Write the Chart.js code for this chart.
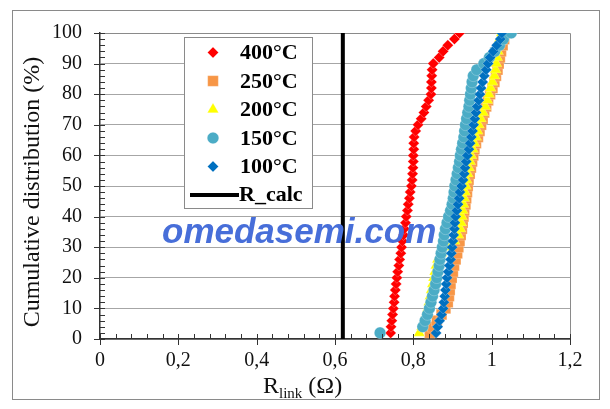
<!DOCTYPE html>
<html>
<head>
<meta charset="utf-8">
<script src="https://cdn.jsdelivr.net/npm/chart.js@4.4.1/dist/chart.umd.min.js"></script>
<style>
    html, body { margin: 0; padding: 0; background: #fff; }
</style>
</head>
<body>
<canvas id="graficoDist" width="610" height="409"></canvas>
<script>
// Distribuição cumulativa (%) - eixo Y
const cumPct = [2, 4, 6, 8, 10, 12, 14, 16, 18, 20, 22, 24, 26, 28, 30, 32, 34, 36, 38, 40,
    42, 44, 46, 48, 50, 52, 54, 56, 58, 60, 62, 64, 66, 68, 70, 72, 74, 76, 78, 80,
    82, 84, 86, 88, 90, 92, 94, 96, 98, 100];

// R_link (Ohm) por temperatura
const r400 = [.742, .743, .745, .747, .749, .751, .752, .754, .756, .758,
    .760, .763, .765, .768, .770, .772, .775, .777, .780, .782,
    .785, .787, .790, .792, .795, .797, .798, .799, .800, .800,
    .801, .801, .802, .806, .812, .820, .827, .833, .839, .845,
    .846, .846, .847, .848, .851, .866, .876, .888, .905, .918];
const r250 = [.842, .850, .860, .872, .882, .888, .891, .893, .895, .898,
    .901, .904, .908, .912, .915, .918, .921, .924, .926, .928,
    .930, .933, .935, .937, .939, .941, .944, .947, .950, .953,
    .956, .960, .965, .969, .973, .977, .981, .986, .991, .996,
    1.002, 1.007, 1.011, 1.015, 1.018, 1.021, 1.024, 1.028, 1.032, 1.034];
const r200 = [.815, .822, .828, .833, .837, .840, .843, .846, .849, .852,
    .855, .858, .862, .872, .888, .905, .915, .920, .922, .924,
    .926, .928, .930, .932, .934, .936, .939, .942, .945, .948,
    .952, .956, .960, .964, .967, .972, .978, .984, .989, .993,
    .997, 1.002, 1.007, 1.010, 1.012, 1.014, 1.016, 1.018, 1.020, 1.025];
const r150 = [.715, .824, .830, .836, .841, .845, .849, .853, .857, .860,
    .863, .866, .868, .871, .874, .877, .879, .882, .886, .890,
    .895, .899, .902, .904, .906, .909, .912, .915, .918, .920,
    .923, .926, .929, .931, .933, .936, .939, .942, .944, .946,
    .948, .950, .953, .962, .980, .994, 1.008, 1.020, 1.030, 1.050];
const r100 = [.858, .862, .867, .872, .876, .878, .880, .882, .884, .886,
    .889, .892, .895, .897, .899, .901, .903, .905, .906, .908,
    .911, .914, .917, .919, .923, .927, .930, .932, .935, .938,
    .942, .945, .948, .951, .954, .957, .960, .963, .967, .970,
    .973, .977, .981, .986, .991, .996, 1.004, 1.013, 1.022, 1.026];

// Linha vertical R_calc
const rCalc = 0.62;
const rCalcY = [0, 100];

// Rótulos dos eixos
const xTickLabels = ['0', '0,2', '0,4', '0,6', '0,8', '1', '1,2'];
const yTickLabels = ['0', '10', '20', '30', '40', '50', '60', '70', '80', '90', '100'];

const pontos = (xs) => cumPct.map((y, i) => ({ x: xs[i], y: y }));

const serif = "'Liberation Serif', 'Times New Roman', serif";
const contorno = 'rgba(255,255,255,0.3)';

const series = [
    { label: '400°C', data: pontos(r400), color: '#ff0000', style: 'rectRot', radius: 5.5, order: 4 },
    { label: '250°C', data: pontos(r250), color: '#f79646', style: 'rect', radius: 7.5, order: 3 },
    { label: '200°C', data: pontos(r200), color: '#ffff00', style: 'triangle', radius: 6.5, order: 2 },
    { label: '150°C', data: pontos(r150), color: '#4bacc6', style: 'circle', radius: 5.8, order: 1 },
    { label: '100°C', data: pontos(r100), color: '#0070c0', style: 'rectRot', radius: 5.5, order: 0 }
];

const datasets = series.map(s => ({
    label: s.label,
    data: s.data,
    showLine: false,
    pointStyle: s.style,
    pointRadius: s.radius,
    backgroundColor: s.color,
    borderColor: contorno,
    pointBorderWidth: 0.8,
    order: s.order
}));

datasets.push({
    label: 'R_calc',
    type: 'line',
    data: rCalcY.map(y => ({ x: rCalc, y: y })),
    borderColor: '#000',
    borderWidth: 4,
    pointRadius: 0,
    order: 5
});

// Desenho dos marcadores (legenda)
function marcador(ctx, s, x, y) {
    ctx.fillStyle = s.color;
    ctx.strokeStyle = contorno;
    ctx.lineWidth = 0.8;
    Chart.helpers.drawPoint(ctx, { pointStyle: s.style, radius: s.radius, rotation: 0, borderWidth: 0.8 }, x, y);
}

const extras = {
    id: 'extras',
    beforeDraw(chart) {
        const ctx = chart.ctx;
        ctx.save();
        ctx.fillStyle = '#fff';
        ctx.fillRect(0, 0, chart.width, chart.height);
        ctx.strokeStyle = '#8a8a8a';
        ctx.lineWidth = 1;
        ctx.strokeRect(12.5, 10.5, 587, 389);
        ctx.restore();
    },
    beforeDatasetsDraw(chart) {
        const ctx = chart.ctx;
        const a = chart.chartArea;
        ctx.save();
        ctx.strokeStyle = '#8a8a8a';
        ctx.lineWidth = 1;
        ctx.beginPath();
        ctx.moveTo(a.left, a.top + 0.5);
        ctx.lineTo(a.right + 0.5, a.top + 0.5);
        ctx.lineTo(a.right + 0.5, a.bottom);
        ctx.stroke();
        ctx.restore();
    },
    afterDraw(chart) {
        const ctx = chart.ctx;
        const a = chart.chartArea;
        const xs = chart.scales.x;
        const ys = chart.scales.y;
        ctx.save();

        // marcas dos eixos
        ctx.strokeStyle = '#333';
        ctx.lineWidth = 1;
        ctx.beginPath();
        for (let v = 0; v <= 100; v += 2) {
            const py = Math.round(ys.getPixelForValue(v)) + 0.5;
            ctx.moveTo(v % 10 === 0 ? a.left - 6 : a.left, py);
            ctx.lineTo(a.left + 5, py);
        }
        for (let k = 0; k <= 30; k++) {
            const px = Math.round(xs.getPixelForValue(k * 0.04)) + 0.5;
            ctx.moveTo(px, a.bottom - 5);
            ctx.lineTo(px, k % 5 === 0 ? a.bottom + 6 : a.bottom);
        }
        ctx.stroke();

        // títulos dos eixos
        ctx.fillStyle = '#111';
        ctx.font = '24px ' + serif;
        ctx.textBaseline = 'alphabetic';
        ctx.textAlign = 'left';
        let tx = 263;
        ctx.fillText('R', tx, 393);
        tx += ctx.measureText('R').width;
        ctx.font = '15px ' + serif;
        ctx.fillText('link', tx, 398);
        tx += ctx.measureText('link').width;
        ctx.font = '24px ' + serif;
        ctx.fillText(' (Ω)', tx, 393);

        ctx.save();
        ctx.translate(33, 192);
        ctx.rotate(-Math.PI / 2);
        ctx.textAlign = 'center';
        ctx.textBaseline = 'middle';
        ctx.fillText('Cumulative distribution (%)', 0, 0);
        ctx.restore();

        // legenda
        const lx = 184, ly = 37, lw = 128, lh = 171, rowH = 28.5;
        ctx.fillStyle = '#fff';
        ctx.fillRect(lx, ly, lw, lh);
        ctx.strokeStyle = '#8a8a8a';
        ctx.lineWidth = 1;
        ctx.strokeRect(lx + 0.5, ly + 0.5, lw, lh);
        ctx.font = 'bold 22px ' + serif;
        ctx.textBaseline = 'middle';
        ctx.textAlign = 'left';
        series.forEach((s, i) => {
            const cy = ly + 15.5 + i * rowH;
            marcador(ctx, s, lx + 29, cy);
            ctx.fillStyle = '#000';
            ctx.fillText(s.label, lx + 56, cy + 1);
        });
        const cyR = ly + 15.5 + 5 * rowH;
        ctx.strokeStyle = '#000';
        ctx.lineWidth = 4;
        ctx.beginPath();
        ctx.moveTo(lx + 6, cyR);
        ctx.lineTo(lx + 55, cyR);
        ctx.stroke();
        ctx.fillStyle = '#000';
        ctx.fillText('R_calc', lx + 55, cyR);

        // marca d'água
        ctx.font = 'italic bold 35px "Liberation Sans", Arial, sans-serif';
        ctx.fillStyle = '#476ed9';
        ctx.textBaseline = 'alphabetic';
        ctx.fillText('omedasemi.com', 162, 243);
        ctx.restore();
    }
};

const grafico = new Chart(
    document.getElementById('graficoDist'),
    {
        type: 'scatter',
        data: { datasets: datasets },
        options: {
            responsive: false,
            devicePixelRatio: 1,
            animation: false,
            events: [],
            layout: { padding: { left: 0, right: 40, top: 33, bottom: 0 } },
            plugins: {
                legend: { display: false },
                tooltip: { enabled: false }
            },
            scales: {
                x: {
                    type: 'linear',
                    min: 0,
                    max: 1.2,
                    afterFit: (s) => { s.height = 70; },
                    afterBuildTicks: (s) => { s.ticks = xTickLabels.map((t, i) => ({ value: i * 0.2 })); },
                    ticks: {
                        padding: 10,
                        color: '#111',
                        font: { family: serif, size: 20 },
                        callback: (v, i) => xTickLabels[i]
                    },
                    grid: { drawOnChartArea: false, drawTicks: false },
                    border: { color: '#333', width: 1.5 }
                },
                y: {
                    min: 0,
                    max: 100,
                    afterFit: (s) => { s.width = 100; },
                    ticks: {
                        stepSize: 10,
                        padding: 18,
                        color: '#111',
                        font: { family: serif, size: 20 },
                        callback: (v, i) => yTickLabels[i]
                    },
                    grid: { color: '#a6a6a6', lineWidth: 1, drawTicks: false },
                    border: { color: '#333', width: 1.5 }
                }
            }
        },
        plugins: [extras]
    }
);
</script>
</body>
</html>
